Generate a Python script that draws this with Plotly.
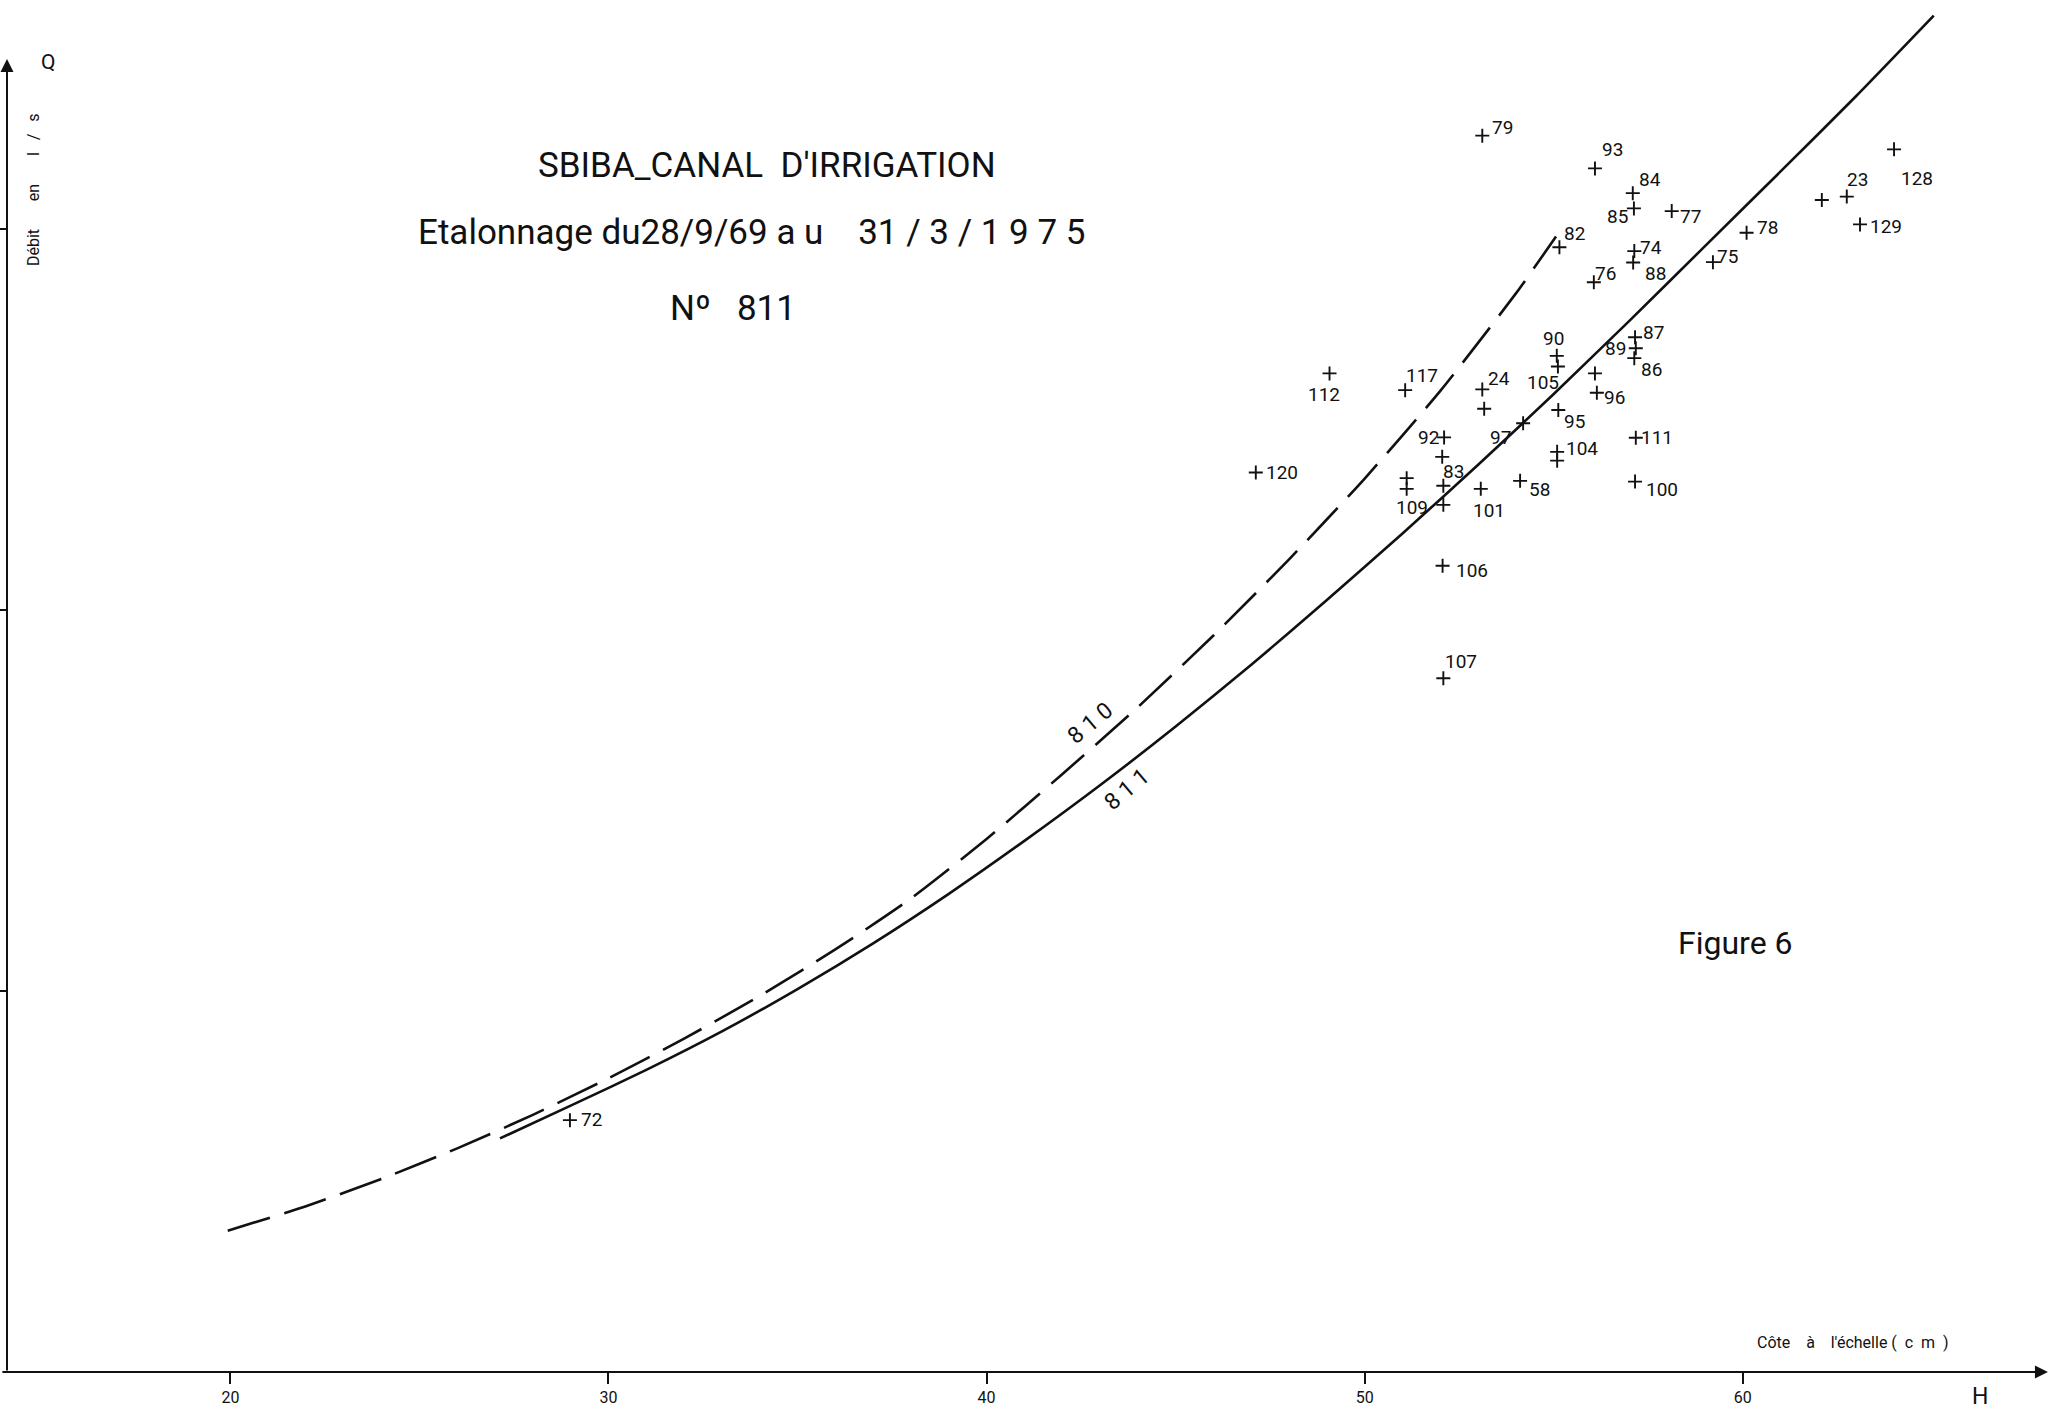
import plotly.graph_objects as go

# Gauged points: stage H (cm) and discharge Q (l/s), with gauging numbers
gauge_h = [53.11, 56.09, 57.09, 57.12, 58.12, 55.15, 57.13, 57.10, 56.06, 59.21,
           60.10, 62.09, 62.75, 64.00, 63.10, 57.15, 57.17, 57.13, 55.08, 55.11,
           56.09, 56.14, 49.07, 51.07, 53.11, 53.16, 55.12, 54.19, 52.10, 52.05,
           52.08, 51.11, 51.11, 52.08, 53.07, 54.11, 55.09, 55.09, 57.17, 57.15,
           47.12, 52.06, 52.08, 28.98]
gauge_q = [324.5, 315.9, 309.4, 305.4, 304.7, 295.2, 294.2, 291.2, 286.0, 291.3,
           299.0, 307.6, 308.5, 320.9, 301.2, 271.6, 268.7, 266.1, 266.7, 263.9,
           262.1, 257.0, 262.1, 257.7, 257.9, 252.8, 252.5, 249.0, 245.3, 240.2,
           232.6, 234.6, 231.8, 227.6, 231.8, 233.9, 241.5, 239.2, 245.2, 233.7,
           236.1, 211.6, 182.1, 66.1]
gauge_no = ["79", "93", "84", "85", "77", "82", "74", "88", "76", "75",
            "78", "", "23", "128", "129", "87", "89", "86", "90", "105",
            "", "96", "112", "117", "24", "", "95", "97", "92", "83",
            "", "", "109", "", "101", "58", "104", "", "111", "100",
            "120", "106", "107", "72"]

# Rating curve No 811 (solid) and previous curve No 810 (dashed)
h_811 = [27.13, 29, 31, 33, 35, 37, 39, 41, 43, 45, 47, 49, 51, 53, 55, 57,
         59, 61, 63, 65.05]
q_811 = [61.3, 69.9, 79.3, 89.4, 100.5, 112.5, 125.5, 139.4, 154.0, 169.4, 185.6,
         202.6, 220.1, 238.1, 256.7, 275.9, 295.5, 315.1, 334.9, 356.0]
h_810 = [19.93, 22, 24, 26, 28, 30, 32, 34, 36, 38, 40, 42, 44, 46, 48, 50, 52,
         54, 55.06]
q_810 = [37.1, 43.5, 50.7, 58.7, 67.5, 77.1, 87.5, 98.7, 110.9, 124.3, 139.9,
         156.9, 174.5, 193.3, 213.3, 234.5, 257.5, 283.1, 298.0]

h_ticks = [20, 30, 40, 50, 60]
h_tick_text = ["20", "30", "40", "50", "60"]
q_ticks = [100, 200, 300]

# Placement of each gauging number relative to its cross (px, y up)
label_shift = {
    "79": (20, 8), "93": (18, 19), "84": (17, 14), "85": (-16, -8), "77": (19, -5),
    "82": (15, 14), "74": (17, 4), "88": (22, -11), "76": (12, 9), "75": (15, 6),
    "78": (21, 5), "23": (11, 17), "128": (23, -29), "129": (26, -2), "87": (18, 5),
    "89": (-20, 0), "86": (17, -11), "90": (-3, 17), "105": (-15, -16), "96": (18, -5),
    "112": (-6, -21), "117": (17, 15), "24": (17, 11), "95": (16, -12), "97": (-23, -14),
    "92": (-16, 0), "83": (11, -15), "109": (5, -19), "101": (8, -22), "58": (19, -9),
    "104": (25, 3), "111": (21, 0), "100": (27, -8), "120": (26, 0), "106": (29, -5),
    "107": (18, 17), "72": (22, 1),
}

W, H = 2053, 1413
ML, MB = 7, 41
PLOT_W, PLOT_H = W - ML, H - MB
X_RANGE = [14.092, 68.204]
Y_RANGE = [0, 360.1]
FONT = "Roboto, 'DejaVu Sans', sans-serif"
INK = "#111111"
nb = "\u00a0"


def px(x, y):
    """Page pixel -> paper coordinates."""
    return (x - ML) / PLOT_W, (PLOT_H - y) / PLOT_H


def spaced(*parts, gap=1):
    return (nb * gap).join(parts)


fig = go.Figure()

fig.add_trace(go.Scatter(
    x=h_810, y=q_810, mode="lines",
    line=dict(color=INK, width=2.6, dash="44px,15px", shape="spline", smoothing=0.6),
    hoverinfo="skip", showlegend=False))
fig.add_trace(go.Scatter(
    x=h_811, y=q_811, mode="lines",
    line=dict(color=INK, width=2.6, shape="spline", smoothing=0.6),
    hoverinfo="skip", showlegend=False))
fig.add_trace(go.Scatter(
    x=gauge_h, y=gauge_q, mode="markers",
    marker=dict(symbol="cross-thin", size=10, line=dict(color=INK, width=1.9)),
    text=gauge_no, showlegend=False))

annotations = []
for h, q, n in zip(gauge_h, gauge_q, gauge_no):
    if not n:
        continue
    dx, dy = label_shift.get(n, (18, 0))
    annotations.append(dict(
        x=h, y=q, xref="x", yref="y", text=n, showarrow=False,
        xanchor="center", yanchor="middle", xshift=dx, yshift=dy,
        font=dict(family=FONT, size=19, color=INK)))

# Curve identifiers written along the curves
annotations.append(dict(x=42.73, y=170.3, xref="x", yref="y", text=spaced("8", "1", "0"),
                        showarrow=False, textangle=-40,
                        font=dict(family=FONT, size=23, color=INK)))
annotations.append(dict(x=43.71, y=152.8, xref="x", yref="y", text=spaced("8", "1", "1"),
                        showarrow=False, textangle=-40,
                        font=dict(family=FONT, size=23, color=INK)))

# Axis lines with arrow heads
annotations.append(dict(x=68.07, y=0, ax=13.93, ay=0, xref="x", yref="y",
                        axref="x", ayref="y", text="", showarrow=True,
                        arrowhead=2, arrowsize=1.3, arrowwidth=2, arrowcolor=INK))
annotations.append(dict(x=X_RANGE[0], y=344.6, ax=X_RANGE[0], ay=0, xref="x", yref="y",
                        axref="x", ayref="y", text="", showarrow=True,
                        arrowhead=2, arrowsize=1.3, arrowwidth=2, arrowcolor=INK))

texts = [
    ((767, 166), "SBIBA_CANAL" + nb * 2 + "D'IRRIGATION", 35, 0),
    ((751, 233), "Etalonnage" + nb + "du28/9/69" + nb + "a" + nb + "u" + nb * 4
     + spaced("31", "/", "3", "/", "1", "9", "7", "5"), 35, 0),
    ((733, 308), "Nº" + nb * 3 + "811", 35, 0),
    ((1735, 943), "Figure" + nb + "6", 32, 0),
    ((33, 190), "Débit" + nb * 7 + "en" + nb * 7 + spaced("l", "/", "s", gap=3), 16, -90),
    ((48, 62), "Q", 21, 0),
    ((1853, 1342), "Côte" + nb * 4 + "à" + nb * 4 + "l'échelle" + nb
     + spaced("(", "c", "m", ")", gap=2), 16, 0),
    ((1980, 1396), "H", 23, 0),
]
for (xp, yp), t, size, ang in texts:
    xx, yy = px(xp, yp)
    annotations.append(dict(x=xx, y=yy, xref="paper", yref="paper", text=t,
                            showarrow=False, xanchor="center", yanchor="middle",
                            textangle=ang, font=dict(family=FONT, size=size, color=INK)))

fig.update_layout(
    width=W, height=H,
    margin=dict(l=ML, r=0, t=0, b=MB, pad=0),
    paper_bgcolor="white", plot_bgcolor="white",
    annotations=annotations,
    xaxis=dict(range=X_RANGE, showgrid=False, zeroline=False, showline=False,
               ticks="outside", ticklen=11, tickwidth=1.5, tickcolor=INK,
               tickvals=h_ticks, ticktext=h_tick_text,
               tickfont=dict(family=FONT, size=16, color=INK)),
    yaxis=dict(range=Y_RANGE, showgrid=False, zeroline=False, showline=False,
               ticks="outside", ticklen=7, tickwidth=1.5, tickcolor=INK,
               tickvals=q_ticks, showticklabels=False),
)

fig.write_html("out.html")
